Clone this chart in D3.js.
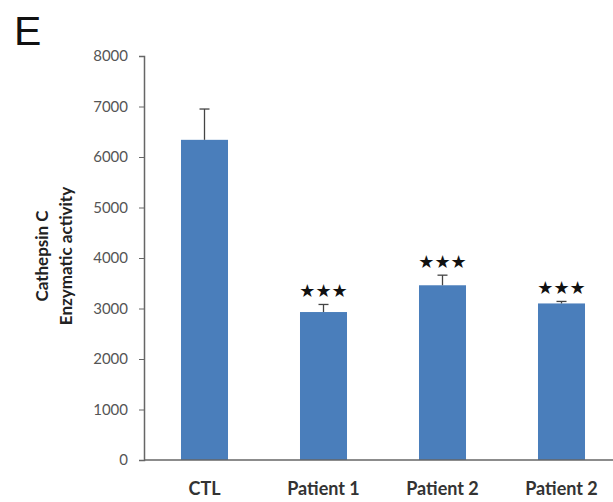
<!DOCTYPE html>
<html>
<head>
<meta charset="utf-8">
<script src="https://cdn.jsdelivr.net/npm/d3@7"></script>
<style>
  html, body { margin: 0; padding: 0; background: #fff; }
  svg { display: block; }
</style>
</head>
<body>
<svg id="chart" width="613" height="502"></svg>
<script>
// Cathepsin C enzymatic activity per sample
const categories = ["CTL", "Patient 1", "Patient 2", "Patient 2 "];
const catLabels = ["CTL", "Patient 1", "Patient 2", "Patient 2"];
const values = [6340, 2930, 3460, 3100];
const errors = [610, 150, 200, 40];
const significance = ["", "***", "***", "***"];
const yTicks = [0, 1000, 2000, 3000, 4000, 5000, 6000, 7000, 8000];

const svg = d3.select("#chart");
const font = "Lato, 'Open Sans', sans-serif";

const x = d3.scaleBand()
  .domain(categories)
  .range([145, 621])
  .paddingInner(0.605)
  .paddingOuter(0.3025);

const y = d3.scaleLinear().domain([0, 8000]).range([460, 56]);

// panel letter
svg.append("text")
  .attr("x", 14).attr("y", 45)
  .attr("font-family", "'Liberation Sans', Arial, sans-serif")
  .attr("font-size", 41)
  .attr("fill", "#111")
  .text("E");

// bars
svg.append("g").selectAll("rect")
  .data(categories)
  .join("rect")
  .attr("x", d => x(d))
  .attr("width", x.bandwidth())
  .attr("y", (d, i) => y(values[i]))
  .attr("height", (d, i) => y(0) - y(values[i]))
  .attr("fill", "#4a7ebb");

// error bars (upper only)
const eb = svg.append("g").attr("stroke", "#444").attr("stroke-width", 1.3);
categories.forEach((c, i) => {
  const cx = x(c) + x.bandwidth() / 2;
  eb.append("line")
    .attr("x1", cx).attr("x2", cx)
    .attr("y1", y(values[i])).attr("y2", y(values[i] + errors[i]));
  eb.append("line")
    .attr("x1", cx - 5).attr("x2", cx + 5)
    .attr("y1", y(values[i] + errors[i])).attr("y2", y(values[i] + errors[i]));
});

// significance markers
svg.append("g").selectAll("text")
  .data(categories)
  .join("text")
  .attr("x", d => x(d) + x.bandwidth() / 2)
  .attr("y", (d, i) => y(values[i] + errors[i]) - 7)
  .attr("text-anchor", "middle")
  .attr("font-family", "'DejaVu Sans', sans-serif")
  .attr("font-size", 18)
  .attr("fill", "#111")
  .text((d, i) => significance[i].replace(/\*/g, "\u2605"));

// y axis
const yAxis = svg.append("g")
  .attr("transform", "translate(144,0)")
  .call(d3.axisLeft(y).tickValues(yTicks).tickSize(5).tickPadding(11).tickFormat(d3.format("d")));
yAxis.select(".domain").attr("stroke", "#666").attr("stroke-width", 1.5);
yAxis.selectAll(".tick line").attr("stroke", "#666");
yAxis.selectAll(".tick text")
  .attr("font-family", font)
  .attr("font-size", 15)
  .attr("fill", "#555");

// x axis
const xAxis = svg.append("g")
  .attr("transform", "translate(0,460)")
  .call(d3.axisBottom(x).tickSize(0).tickPadding(22).tickFormat((d, i) => catLabels[i]));
xAxis.select(".domain").attr("d", "M144,0H613").attr("stroke", "#666").attr("stroke-width", 1.5);
xAxis.selectAll(".tick text")
  .attr("font-family", font)
  .attr("font-size", 18)
  .attr("font-weight", "bold")
  .attr("fill", "#333");

// y axis title (two lines)
const title = svg.append("text")
  .attr("transform", "translate(48,256) rotate(-90)")
  .attr("text-anchor", "middle")
  .attr("font-family", font)
  .attr("font-size", 17)
  .attr("font-weight", "bold")
  .attr("fill", "#222");
title.append("tspan").attr("x", 0).attr("dy", 0).text("Cathepsin C");
title.append("tspan").attr("x", 0).attr("dy", 24).text("Enzymatic activity");
</script>
</body>
</html>
